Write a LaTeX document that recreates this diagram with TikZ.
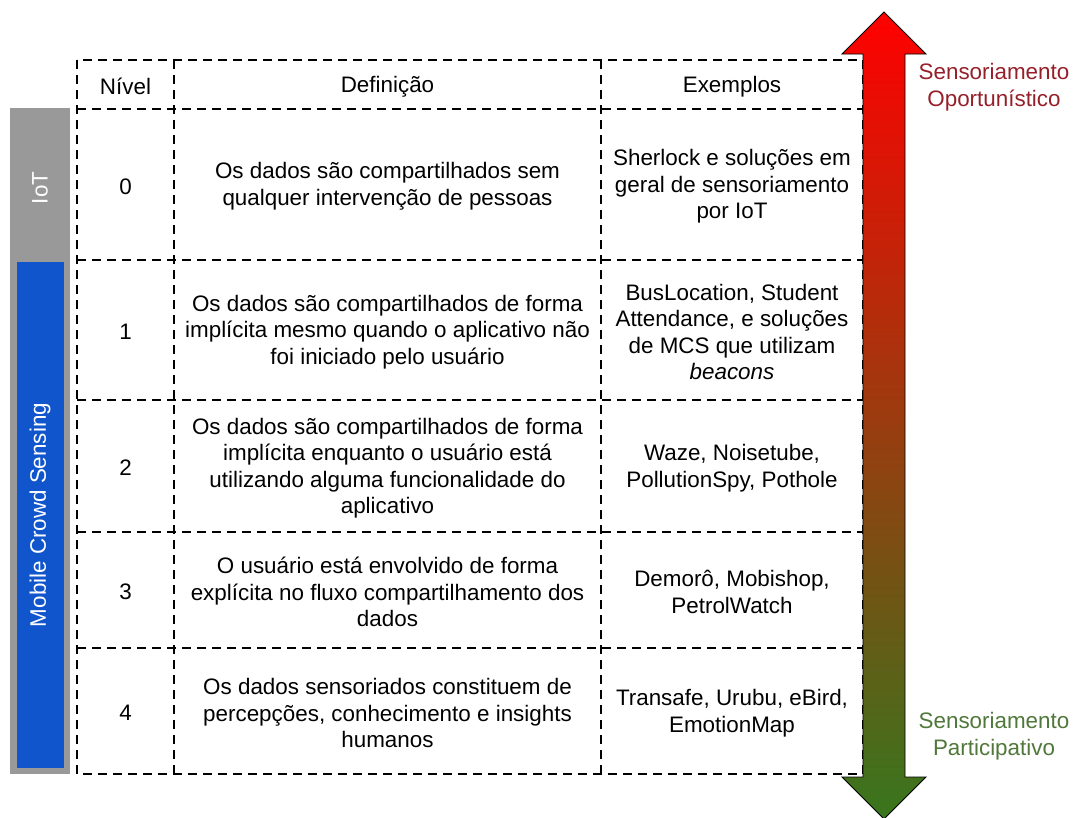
\documentclass[tikz,border=0pt]{standalone}
\usepackage{fontspec}
\setmainfont{Liberation Sans}
\usetikzlibrary{positioning}
\definecolor{iotgray}{RGB}{153,153,153}
\definecolor{mcsblue}{RGB}{17,85,204}
\definecolor{oporred}{RGB}{150,32,42}
\definecolor{partgreen}{RGB}{80,120,58}
\definecolor{arrgreen}{RGB}{56,118,29}
\definecolor{arrmid}{RGB}{170,48,18}
\tikzset{
	cell/.style={align=center,inner sep=0pt,yshift=-2pt,font=\fontsize{22.4}{26.5}\selectfont},
	grid/.style={line width=1.9pt,dash pattern=on 9pt off 6pt},
	sidelab/.style={align=center,inner sep=0pt,text=white,rotate=90,font=\fontsize{22.4}{26.5}\selectfont},
}
\begin{document}
\begin{tikzpicture}[x=1pt,y=-1pt]
	\useasboundingbox (0,0) rectangle (1075,817);
	% side bars
	\fill[iotgray] (10,108) rectangle (70,774);
	\fill[mcsblue] (17,262) rectangle (64,768);
	\node[sidelab] (iot) at (40,188) {IoT};
	\node[sidelab] (mcs) at (40,515) {Mobile Crowd Sensing};
	
	% table
	\draw[grid] (77,60) rectangle (863,774);
	\draw[grid] (174,60) -- (174,774);
	\draw[grid] (601,60) -- (601,774);
	\draw[grid] (77,109) -- (863,109);
	\draw[grid] (77,260) -- (863,260);
	\draw[grid] (77,400) -- (863,400);
	\draw[grid] (77,532) -- (863,532);
	\draw[grid] (77,648) -- (863,648);
	
	\node[cell] (hlvl) at (125.5,84.5) {Nível};
	\node[cell] (hdef) at (387.5,84.5) {Definição};
	\node[cell] (hex) at (732,84.5) {Exemplos};
	
	\node[cell] (lvl0) at (125.5,184.5) {0};
	\node[cell] (def0) at (387.5,184.5) {Os dados são compartilhados sem\\qualquer intervenção de pessoas};
	\node[cell] (ex0) at (732,184.5) {Sherlock e soluções em\\geral de sensoriamento\\por IoT};
	
	\node[cell] (lvl1) at (125.5,330) {1};
	\node[cell] (def1) at (387.5,330) {Os dados são compartilhados de forma\\implícita mesmo quando o aplicativo não\\foi iniciado pelo usuário};
	\node[cell] (ex1) at (732,330) {BusLocation, Student\\Attendance, e soluções\\de MCS que utilizam\\\textit{beacons}};
	
	\node[cell] (lvl2) at (125.5,466) {2};
	\node[cell] (def2) at (387.5,466) {Os dados são compartilhados de forma\\implícita enquanto o usuário está\\utilizando alguma funcionalidade do\\aplicativo};
	\node[cell] (ex2) at (732,466) {Waze, Noisetube,\\PollutionSpy, Pothole};
	
	\node[cell] (lvl3) at (125.5,590) {3};
	\node[cell] (def3) at (387.5,590) {O usuário está envolvido de forma\\explícita no fluxo compartilhamento dos\\dados};
	\node[cell] (ex3) at (732,590) {Demorô, Mobishop,\\PetrolWatch};
	
	\node[cell] (lvl4) at (125.5,711) {4};
	\node[cell] (def4) at (387.5,711) {Os dados sensoriados constituem de\\percepções, conhecimento e insights\\humanos};
	\node[cell] (ex4) at (732,711) {Transafe, Urubu, eBird,\\EmotionMap};
	
	% gradient arrow
	\draw[line width=0.8pt,top color=red,middle color=arrmid,bottom color=arrgreen] (884,12) -- (926,54) -- (905,54) -- (905,777) -- (926,777) -- (884,819) -- (842,777) -- (863,777) -- (863,54) -- (842,54) -- cycle;
	
	\node[cell,text=oporred] (opor) at (994,85) {Sensoriamento\\Oportunístico};
	\node[cell,text=partgreen] (part) at (994,734) {Sensoriamento\\Participativo};
\end{tikzpicture}
\end{document}
